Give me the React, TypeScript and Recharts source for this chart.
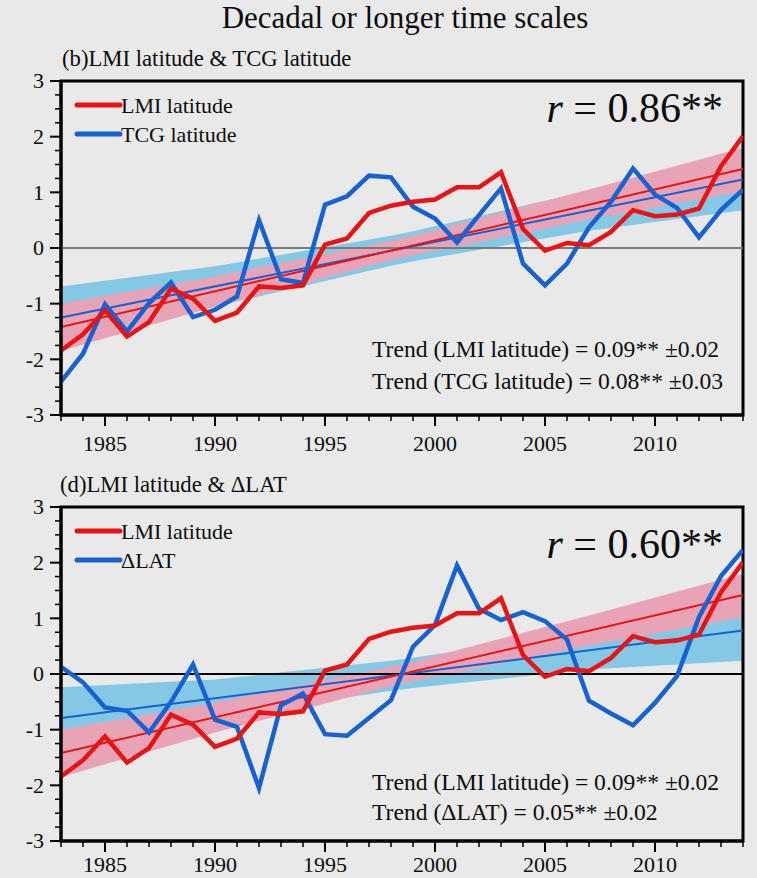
import { ComposedChart, Line, Area, XAxis, YAxis, ReferenceLine, ReferenceArea, Legend } from 'recharts';

// yearly anomalies, 1983-2014
const years = [
  1983, 1984, 1985, 1986, 1987, 1988, 1989, 1990, 1991, 1992, 1993, 1994, 1995, 1996, 1997, 1998,
  1999, 2000, 2001, 2002, 2003, 2004, 2005, 2006, 2007, 2008, 2009, 2010, 2011, 2012, 2013, 2014,
];
const lmiLatitude = [
  -1.84, -1.55, -1.12, -1.59, -1.33, -0.73, -0.91, -1.31, -1.16, -0.69, -0.72, -0.67, 0.06, 0.17, 0.63, 0.76,
  0.83, 0.87, 1.09, 1.09, 1.36, 0.34, -0.05, 0.09, 0.05, 0.29, 0.68, 0.57, 0.6, 0.71, 1.47, 2.01,
];
const tcgLatitude = [
  -2.4, -1.9, -1.01, -1.5, -0.99, -0.62, -1.24, -1.11, -0.87, 0.5, -0.56, -0.63, 0.78, 0.93, 1.3, 1.27,
  0.74, 0.53, 0.1, 0.59, 1.07, -0.28, -0.67, -0.28, 0.37, 0.83, 1.43, 0.96, 0.72, 0.19, 0.68, 1.05,
];
const deltaLat = [
  0.13, -0.15, -0.6, -0.66, -1.05, -0.5, 0.17, -0.82, -0.95, -2.05, -0.56, -0.35, -1.08, -1.11, -0.79, -0.47,
  0.49, 0.88, 1.95, 1.17, 0.97, 1.11, 0.95, 0.62, -0.48, -0.71, -0.92, -0.52, -0.04, 1.02, 1.76, 2.23,
];

// linear trends (end points)
const trendYears = [1983, 2014];
const lmiTrend = [-1.42, 1.42];
const tcgTrend = [-1.25, 1.23];
const deltaLatTrend = [-0.79, 0.78];

// confidence bands around the trends
const bandYears = [1983, 1990, 1998, 1999, 2007, 2014];
const lmiBandLow = [-1.85, -1.05, -0.22, -0.13, 0.51, 1.02];
const lmiBandHigh = [-1.0, -0.51, 0.13, 0.22, 1.05, 1.8];
const tcgBandLow = [-1.8, -1.05, -0.32, -0.24, 0.31, 0.68];
const tcgBandHigh = [-0.69, -0.33, 0.22, 0.3, 1.03, 1.78];
const deltaLatBandLow = [-1.34, -0.78, -0.3, -0.25, 0.08, 0.24];
const deltaLatBandHigh = [-0.24, -0.1, 0.24, 0.29, 0.76, 1.32];

const valueTicks = [
  -3, -2.75, -2.5, -2.25, -2, -1.75, -1.5, -1.25, -1, -0.75, -0.5, -0.25, 0,
  0.25, 0.5, 0.75, 1, 1.25, 1.5, 1.75, 2, 2.25, 2.5, 2.75, 3,
];

const RED = '#e81414';
const BLUE = '#1662d2';
const PINK = '#e8a4b6';
const SKY = '#84c8e6';
const BG = '#e9e9e9';
const INK = '#0c0c0c';
const FONT = '"Liberation Serif", "Times New Roman", serif';

const YearTick = ({ x, y, payload, labelOffset }: any) => {
  const major = payload.value % 5 === 0;
  return (
    <g>
      <line x1={x} x2={x} y1={y} y2={y + (major ? 11 : 6)} stroke="#000" strokeWidth={major ? 2 : 1.5} />
      {major && (
        <text x={x} y={y + labelOffset} textAnchor="middle" fontSize={22} fontFamily={FONT} fill={INK}>
          {payload.value}
        </text>
      )}
    </g>
  );
};

const ValueTick = ({ x, y, payload }: any) => {
  const major = Number.isInteger(payload.value);
  return (
    <g>
      <line x1={x - (major ? 11 : 6)} x2={x} y1={y} y2={y} stroke="#000" strokeWidth={major ? 2 : 1.5} />
      {major && (
        <text x={x - 17} y={y} dy="0.34em" textAnchor="end" fontSize={22} fontFamily={FONT} fill={INK}>
          {payload.value}
        </text>
      )}
    </g>
  );
};

const legendContent = (other: string) => () => (
  <svg width={260} height={64} style={{ overflow: 'visible' }}>
    <line x1={2} x2={45} y1={10} y2={10} stroke={RED} strokeWidth={5} strokeLinecap="round" />
    <text x={46} y={18} fontSize={22} fontFamily={FONT} fill={INK}>LMI latitude</text>
    <line x1={2} x2={45} y1={39} y2={39} stroke={BLUE} strokeWidth={5} strokeLinecap="round" />
    <text x={46} y={47} fontSize={22} fontFamily={FONT} fill={INK}>{other}</text>
  </svg>
);

interface PanelProps {
  top: number;
  height: number;
  plotTop: number;
  xAxisHeight: number;
  labelOffset: number;
  other: number[];
  otherName: string;
  otherTrend: number[];
  otherLow: number[];
  otherHigh: number[];
  zeroColor: string;
}

const Panel = ({ top, height, plotTop, xAxisHeight, labelOffset, other, otherName, otherTrend, otherLow, otherHigh, zeroColor }: PanelProps) => {
  const rows = years.map((year, i) => ({ year, lmi: lmiLatitude[i], other: other[i] }));
  const trendRows = trendYears.map((year, i) => ({ year, lmiTrend: lmiTrend[i], otherTrend: otherTrend[i] }));
  const bandRows = bandYears.map((year, i) => ({
    year,
    lmiBand: [lmiBandLow[i], lmiBandHigh[i]],
    otherBand: [otherLow[i], otherHigh[i]],
  }));

  return (
    <div style={{ position: 'absolute', left: 0, top, width: 757, height }}>
      <ComposedChart width={757} height={height} data={rows} margin={{ top: plotTop, right: 14, bottom: 5, left: 0 }}>
        <XAxis
          dataKey="year"
          type="number"
          domain={[1983, 2014]}
          ticks={years}
          interval={0}
          height={xAxisHeight}
          tickSize={0}
          tickMargin={0}
          tickLine={false}
          tick={<YearTick labelOffset={labelOffset} />}
          axisLine={{ stroke: '#000', strokeWidth: 3 }}
          allowDataOverflow
        />
        <YAxis
          type="number"
          domain={[-3, 3]}
          ticks={valueTicks}
          interval={0}
          width={61}
          tickSize={0}
          tickMargin={0}
          tickLine={false}
          tick={<ValueTick />}
          axisLine={{ stroke: '#000', strokeWidth: 3 }}
          allowDataOverflow
        />
        <Area data={bandRows} dataKey="otherBand" type="linear" fill={SKY} fillOpacity={1} stroke="none" isAnimationActive={false} />
        <Area data={bandRows} dataKey="lmiBand" type="linear" fill={PINK} fillOpacity={1} stroke="none" isAnimationActive={false} />
        <ReferenceLine y={0} stroke={zeroColor} strokeWidth={2} />
        <Line data={trendRows} dataKey="otherTrend" type="linear" stroke={BLUE} strokeWidth={2} dot={false} isAnimationActive={false} />
        <Line data={trendRows} dataKey="lmiTrend" type="linear" stroke={RED} strokeWidth={2} dot={false} isAnimationActive={false} />
        <Line dataKey="other" type="linear" stroke={BLUE} strokeWidth={4.5} dot={false} isAnimationActive={false} />
        <Line dataKey="lmi" type="linear" stroke={RED} strokeWidth={4.5} dot={false} isAnimationActive={false} />
        <ReferenceArea x1={1983} x2={2014} y1={-3} y2={3} fill="none" stroke="#000" strokeWidth={3} />
        <Legend
          layout="horizontal"
          verticalAlign="middle"
          align="center"
          content={legendContent(otherName)}
          wrapperStyle={{ left: 75, top: plotTop + 14, width: 260, height: 64, overflow: 'visible' }}
        />
      </ComposedChart>
    </div>
  );
};

export default function App() {
  return (
    <div style={{ position: 'absolute', left: 0, top: 0, width: 757, height: 878, background: BG, overflow: 'hidden', fontFamily: FONT }}>
      <Panel
        top={0}
        height={460}
        plotTop={81}
        xAxisHeight={40}
        labelOffset={36}
        other={tcgLatitude}
        otherName="TCG latitude"
        otherTrend={tcgTrend}
        otherLow={tcgBandLow}
        otherHigh={tcgBandHigh}
        zeroColor="#7a7a7a"
      />
      <Panel
        top={430}
        height={448}
        plotTop={77}
        xAxisHeight={32}
        labelOffset={31}
        other={deltaLat}
        otherName="ΔLAT"
        otherTrend={deltaLatTrend}
        otherLow={deltaLatBandLow}
        otherHigh={deltaLatBandHigh}
        zeroColor="#000"
      />
      <svg width={757} height={878} style={{ position: 'absolute', left: 0, top: 0, pointerEvents: 'none' }} fontFamily={FONT} fill={INK}>
        <text x={405} y={28} textAnchor="middle" fontSize={31}>Decadal or longer time scales</text>
        <text x={62} y={66} fontSize={22.7}>(b)LMI latitude &amp; TCG latitude</text>
        <text x={60} y={492} fontSize={22.7}>(d)LMI latitude &amp; ΔLAT</text>

        <text x={723} y={122} textAnchor="end" fontSize={42}>
          <tspan fontStyle="italic">r</tspan> = 0.86**
        </text>
        <text x={723} y={558} textAnchor="end" fontSize={42}>
          <tspan fontStyle="italic">r</tspan> = 0.60**
        </text>

        <text x={372} y={357} fontSize={23.6}>Trend (LMI latitude) = 0.09** ±0.02</text>
        <text x={372} y={389} fontSize={23.6}>Trend (TCG latitude) = 0.08** ±0.03</text>
        <text x={372} y={790} fontSize={23.6}>Trend (LMI latitude) = 0.09** ±0.02</text>
        <text x={372} y={820} fontSize={23.6}>Trend (ΔLAT) = 0.05** ±0.02</text>
      </svg>
    </div>
  );
}
